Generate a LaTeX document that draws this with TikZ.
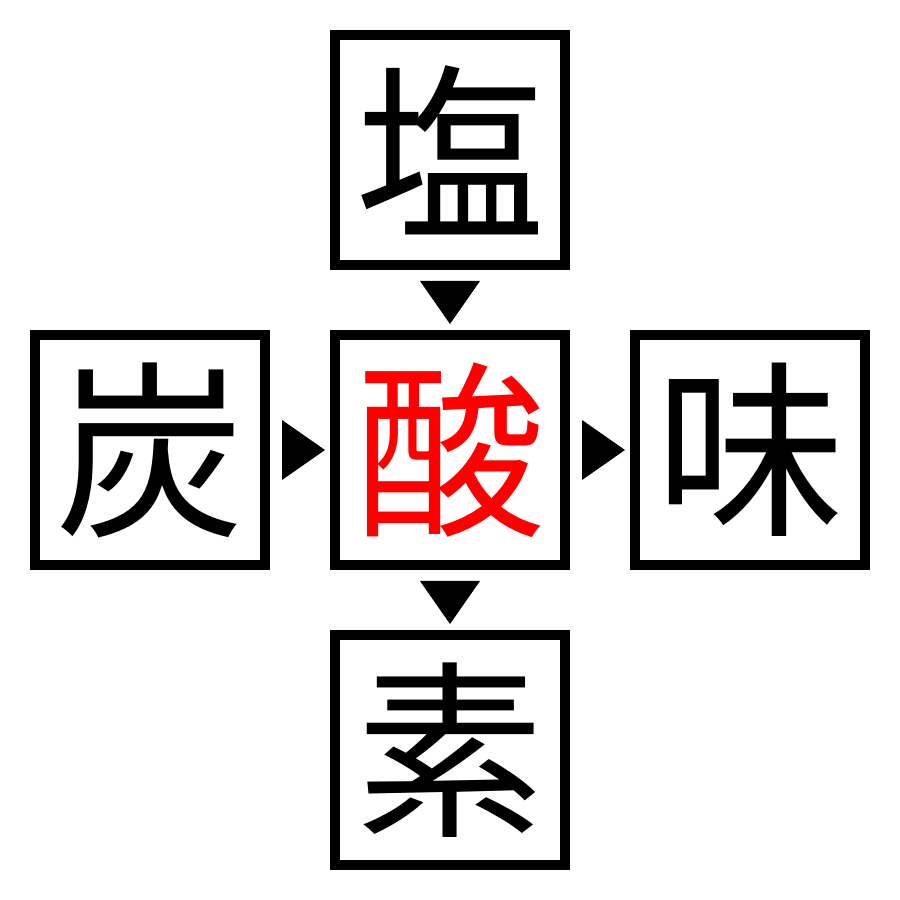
\documentclass[tikz,border=0pt]{standalone}
\usepackage{fontspec}
\newfontfamily\cjk{Noto Sans CJK JP}
\usetikzlibrary{calc}
\begin{document}
\begin{tikzpicture}[
  kbox/.style={draw=black, line width=0.1cm, minimum size=2.3cm, inner sep=0pt,
    font=\cjk\fontsize{54}{54}\selectfont, text=black},
  tri/.style={fill=black}
]
\useasboundingbox[fill=white] (0,0) rectangle (9,9);
\node[kbox] (top) at (4.5,7.5) {塩};
\node[kbox, text={rgb,255:red,255;green,0;blue,0}] (mid) at (4.5,4.5) {酸};
\node[kbox] (left) at (1.5,4.5) {炭};
\node[kbox] (right) at (7.5,4.5) {味};
\node[kbox] (bot) at (4.5,1.5) {素};
% top -> mid
\fill[tri] ($(top.south)+(-0.3,-0.11)$) -- ($(top.south)+(0.3,-0.11)$) -- ($(mid.north)+(0,0.06)$) -- cycle;
% mid -> bot
\fill[tri] ($(mid.south)+(-0.3,-0.11)$) -- ($(mid.south)+(0.3,-0.11)$) -- ($(bot.north)+(0,0.06)$) -- cycle;
% left -> mid
\fill[tri] ($(left.east)+(0.12,0.3)$) -- ($(left.east)+(0.12,-0.3)$) -- ($(mid.west)+(-0.05,0)$) -- cycle;
% mid -> right
\fill[tri] ($(mid.east)+(0.12,0.3)$) -- ($(mid.east)+(0.12,-0.3)$) -- ($(right.west)+(-0.05,0)$) -- cycle;
\end{tikzpicture}
\end{document}
